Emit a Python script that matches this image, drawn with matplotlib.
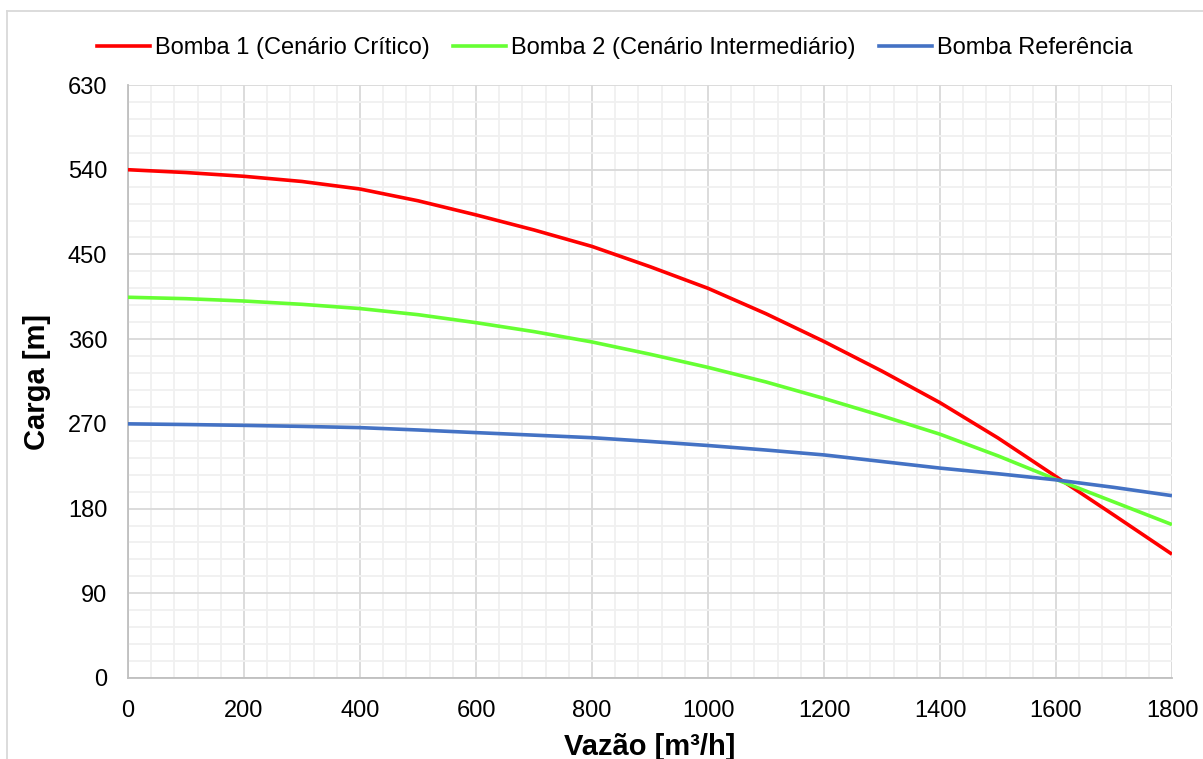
import matplotlib
matplotlib.use("Agg")
import matplotlib.pyplot as plt
from matplotlib.ticker import MultipleLocator
from matplotlib.lines import Line2D
import numpy as np

plt.rcParams['font.family'] = ['Liberation Sans', 'DejaVu Sans']

vazao = [0, 100, 200, 300, 400, 500, 600, 700, 800, 900, 1000,
         1100, 1200, 1300, 1400, 1500, 1600, 1700, 1800]
bomba1 = [540, 537, 533, 527.5, 519.5, 507, 492, 476, 458.5, 437, 414,
          387, 357.5, 326, 292.5, 255, 214, 173, 131.5]
bomba2 = [404.5, 403, 400.5, 397, 392.5, 386, 377.5, 368, 357, 344, 330,
          314.5, 297, 278.5, 259, 236, 211, 187, 163]
bomba_ref = [270, 269.3, 268.4, 267.3, 266, 263.5, 260.7, 258, 255.3, 251.3, 247,
             242.2, 237, 230, 223, 217, 210.5, 202.5, 193.7]

labels = ["Bomba 1 (Cenário Crítico)", "Bomba 2 (Cenário Intermediário)", "Bomba Referência"]
colors = ["#FF0000", "#66FF33", "#4472C4"]

W, H = 1203, 759
fig = plt.figure(figsize=(W / 100, H / 100), dpi=100)
ax = fig.add_axes([128 / W, (H - 678) / H, (1172 - 128) / W, (678 - 85) / H])

for ys, c, lab in zip([bomba1, bomba2, bomba_ref], colors, labels):
    ax.plot(vazao, ys, color=c, lw=2.6, label=lab, solid_capstyle='butt',
            solid_joinstyle='round', zorder=3)

ax.set_xlim(0, 1800)
ax.set_ylim(0, 630)
ax.xaxis.set_major_locator(MultipleLocator(200))
ax.xaxis.set_minor_locator(MultipleLocator(40))
ax.yaxis.set_major_locator(MultipleLocator(90))
ax.yaxis.set_minor_locator(MultipleLocator(18))
ax.grid(which='major', color='#D9D9D9', lw=1.3, zorder=1)
ax.grid(which='minor', color='#F0F0F0', lw=1.3, zorder=0)
ax.set_axisbelow(True)
ax.tick_params(which='both', length=0, labelsize=17, colors='black')
ax.tick_params(axis='y', pad=15)
ax.tick_params(axis='x', pad=16)
for s in ['top', 'right']:
    ax.spines[s].set_visible(False)
for s in ['left', 'bottom']:
    ax.spines[s].set_color('#BFBFBF')
    ax.spines[s].set_linewidth(1.3)

ax.set_xlabel("Vazão [m³/h]", fontsize=21, fontweight='bold', labelpad=8)
ax.set_ylabel("Carga [m]", fontsize=21, fontweight='bold', labelpad=12)

handles = [Line2D([], [], color=c, lw=2.6) for c in colors]
fig.legend(handles, labels, loc='center', bbox_to_anchor=(614.5 / W, 1 - 48 / H),
           ncol=3, frameon=False, fontsize=17, handlelength=2.25, handletextpad=0.2,
           columnspacing=1.0)

# figure border (partially visible)
fig.add_artist(Line2D([7 / W, 7 / W], [0, 1 - 11 / H], transform=fig.transFigure,
                      color='#D9D9D9', lw=1.3))
fig.add_artist(Line2D([7 / W, 1], [1 - 11 / H, 1 - 11 / H], transform=fig.transFigure,
                      color='#D9D9D9', lw=1.3))

fig.savefig("out.png", dpi=100)
